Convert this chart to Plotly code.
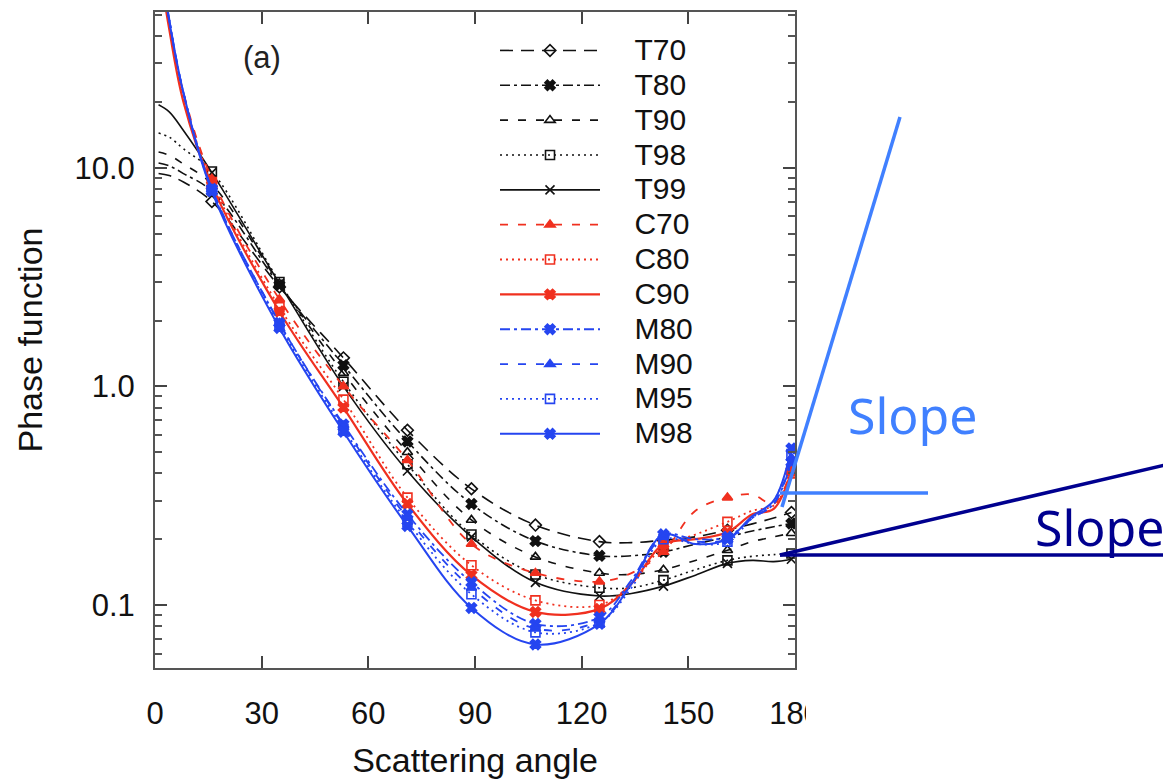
import plotly.graph_objects as go

ANGLES = [1, 4, 8, 16, 35, 53, 71, 89, 107, 125, 134, 143, 152, 161, 168, 174, 179]
MARKER_ANGLES = [16, 35, 53, 71, 89, 107, 125, 143, 161, 179]

T70 = [9.4, 9.2, 8.6, 7.0, 2.85, 1.35, 0.63, 0.34, 0.232, 0.195, 0.193, 0.198, 0.205, 0.22, 0.235, 0.25, 0.265]
T80 = [10.5, 10.2, 9.4, 7.8, 2.9, 1.25, 0.56, 0.29, 0.196, 0.168, 0.168, 0.175, 0.19, 0.205, 0.218, 0.228, 0.236]
T90 = [11.8, 11.4, 10.4, 8.4, 2.95, 1.15, 0.50, 0.245, 0.166, 0.14, 0.138, 0.145, 0.16, 0.178, 0.195, 0.205, 0.213]
T98 = [14.4, 13.8, 12.2, 9.6, 3.0, 1.05, 0.44, 0.21, 0.138, 0.12, 0.12, 0.13, 0.145, 0.16, 0.167, 0.17, 0.172]
T99 = [19.4, 18.0, 14.8, 9.5, 2.95, 1.0, 0.41, 0.205, 0.127, 0.11, 0.113, 0.122, 0.137, 0.155, 0.16, 0.158, 0.162]
C70 = [95, 45, 22, 8.9, 2.5, 1.0, 0.46, 0.19, 0.14, 0.128, 0.14, 0.175, 0.27, 0.31, 0.32, 0.29, 0.42]
C80 = [90, 44, 21, 8.6, 2.3, 0.87, 0.31, 0.152, 0.105, 0.10, 0.125, 0.185, 0.21, 0.24, 0.27, 0.285, 0.40]
C90 = [88, 43, 20, 8.3, 2.2, 0.80, 0.29, 0.137, 0.093, 0.096, 0.125, 0.19, 0.20, 0.215, 0.26, 0.275, 0.41]
M80 = [100, 48, 22, 8.0, 1.95, 0.67, 0.26, 0.127, 0.082, 0.088, 0.13, 0.21, 0.20, 0.205, 0.25, 0.29, 0.45]
M90 = [100, 48, 22, 8.0, 1.95, 0.66, 0.25, 0.12, 0.078, 0.085, 0.125, 0.205, 0.195, 0.20, 0.25, 0.29, 0.47]
M95 = [100, 47, 22, 7.9, 1.90, 0.64, 0.24, 0.112, 0.075, 0.083, 0.12, 0.20, 0.19, 0.195, 0.25, 0.30, 0.49]
M98 = [100, 47, 22, 7.8, 1.85, 0.62, 0.23, 0.097, 0.066, 0.082, 0.125, 0.21, 0.19, 0.20, 0.255, 0.30, 0.52]

SERIES_NAMES = ["T70", "T80", "T90", "T98", "T99", "C70", "C80", "C90", "M80", "M90", "M95", "M98"]
SERIES_VALUES = [T70, T80, T90, T98, T99, C70, C80, C90, M80, M90, M95, M98]

X_TICKS = [0, 30, 60, 90, 120, 150, 180]
Y_TICKS = [0.1, 1.0, 10.0]
Y_TICK_TEXT = ["0.1", "1.0", "10.0"]

BLACK = "#111111"
RED = "#f0301f"
BLUE = "#2545f0"
LIGHT_BLUE = "#4080ff"
NAVY = "#00008f"

DASH_LONG = "13px,8px"
DASH_DDOT = "10px,4px,3px,4px"
DASH_SHORT = "8px,10px"
DOT = "2px,4px"

styles = {
    "T70": dict(color=BLACK, dash=DASH_LONG, symbol="diamond-open", width=1.6),
    "T80": dict(color=BLACK, dash=DASH_DDOT, symbol="x", width=1.6),
    "T90": dict(color=BLACK, dash=DASH_SHORT, symbol="triangle-up-open", width=1.6),
    "T98": dict(color=BLACK, dash=DOT, symbol="square-open", width=1.6),
    "T99": dict(color=BLACK, dash="solid", symbol="x-thin-open", width=1.6),
    "C70": dict(color=RED, dash=DASH_SHORT, symbol="triangle-up", width=1.8),
    "C80": dict(color=RED, dash=DOT, symbol="square-open", width=1.8),
    "C90": dict(color=RED, dash="solid", symbol="x", width=2.2),
    "M80": dict(color=BLUE, dash=DASH_DDOT, symbol="x", width=1.8),
    "M90": dict(color=BLUE, dash=DASH_SHORT, symbol="triangle-up", width=1.8),
    "M95": dict(color=BLUE, dash=DOT, symbol="square-open", width=1.8),
    "M98": dict(color=BLUE, dash="solid", symbol="x", width=2.0),
}

fig = go.Figure()

for name, vals in zip(SERIES_NAMES, SERIES_VALUES):
    st = styles[name]
    fig.add_trace(go.Scatter(
        x=ANGLES, y=vals, mode="lines", showlegend=False, legendgroup=name,
        line=dict(color=st["color"], dash=st["dash"], width=st["width"], shape="spline", smoothing=1.0),
        hoverinfo="skip"))
    mx = [a for a in ANGLES if a in MARKER_ANGLES]
    my = [v for a, v in zip(ANGLES, vals) if a in MARKER_ANGLES]
    fig.add_trace(go.Scatter(
        x=mx, y=my, mode="markers", showlegend=False, legendgroup=name,
        marker=dict(symbol=st["symbol"], size=9, color=st["color"],
                    line=dict(color=st["color"], width=1.6))))

for name in SERIES_NAMES:
    st = styles[name]
    fig.add_trace(go.Scatter(
        x=[None], y=[None], mode="lines+markers",
        name="\u2003\u2009<span style='font-size:30px'>" + name + "</span>", legendgroup=name,
        line=dict(color=st["color"], dash=st["dash"], width=st["width"]),
        marker=dict(symbol=st["symbol"], size=9, color=st["color"],
                    line=dict(color=st["color"], width=1.6))))

L, R, T, B = 155, 368, 12, 112
W, H = 1163, 780
pw, ph = W - L - R, H - T - B

def px(x):
    return (x - L) / pw

def py(y):
    return (H - B - y) / ph

minor_vals = [m * 10 ** e for e in (-2, -1, 0, 1) for m in range(2, 10)]

fig.update_layout(
    width=W, height=H,
    margin=dict(l=L, r=R, t=T, b=B, pad=0),
    paper_bgcolor="white", plot_bgcolor="white",
    font=dict(family="Liberation Sans, Arial, sans-serif", color="#111111"),
    showlegend=True,
    legend=dict(x=px(495), y=py(28), xanchor="left", yanchor="top",
                bgcolor="rgba(0,0,0,0)", font=dict(size=24.5, color="#111111"),
                itemwidth=100, tracegroupgap=0, traceorder="normal"),
    xaxis=dict(range=[0, 180], tickvals=X_TICKS, ticks="inside", ticklen=12, tickwidth=1.5,
               tickcolor="#444444", showline=True, linecolor="#555555", linewidth=2,
               mirror="ticks", showgrid=False, zeroline=False, automargin=False,
               tickfont=dict(size=31), ticklabelstandoff=17,
               title=dict(text="Scattering angle", font=dict(size=34), standoff=18)),
    yaxis=dict(type="log", range=[-1.288, 1.712], tickvals=Y_TICKS, ticktext=Y_TICK_TEXT,
               ticks="inside", ticklen=12, tickwidth=1.5, tickcolor="#444444",
               showline=True, linecolor="#555555", linewidth=2, mirror="ticks",
               showgrid=False, zeroline=False, automargin=False,
               tickfont=dict(size=31), ticklabelstandoff=12,
               minor=dict(tickmode="array", tickvals=minor_vals, ticks="inside", ticklen=7,
                          tickcolor="#555555", showgrid=False),
               title=dict(text="Phase function", font=dict(size=34), standoff=22)),
)

fig.add_annotation(text="(a)", xref="paper", yref="paper", x=px(262), y=py(57),
                   xanchor="center", yanchor="middle",
                   showarrow=False, font=dict(size=31, color="#222222"))

shapes = [
    dict(x0=px(782), y0=py(507), x1=px(900), y1=py(117), color=LIGHT_BLUE),
    dict(x0=px(780), y0=py(493), x1=px(928), y1=py(493), color=LIGHT_BLUE),
    dict(x0=px(780), y0=py(555), x1=px(1165), y1=py(465), color=NAVY),
    dict(x0=px(780), y0=py(555), x1=px(1165), y1=py(555), color=NAVY),
]
for s in shapes:
    fig.add_shape(type="line", xref="paper", yref="paper", x0=s["x0"], y0=s["y0"],
                  x1=s["x1"], y1=s["y1"], line=dict(color=s["color"], width=3.5), layer="above")

# cover the cropped part of the last tick label as in the reference
fig.add_shape(type="rect", xref="paper", yref="paper", x0=px(806), x1=px(840),
              y0=py(735), y1=py(685), fillcolor="white", line=dict(width=0), layer="above")

fig.add_annotation(text="Slope", xref="paper", yref="paper", x=px(913), y=py(415),
                   xanchor="center", yanchor="middle", showarrow=False,
                   font=dict(size=50, color=LIGHT_BLUE, family="Noto Sans"))
fig.add_annotation(text="Slope", xref="paper", yref="paper", x=px(1033), y=py(527),
                   xanchor="left", yanchor="middle", showarrow=False,
                   font=dict(size=50, color=NAVY, family="Noto Sans"))

fig.write_html("out.html")
